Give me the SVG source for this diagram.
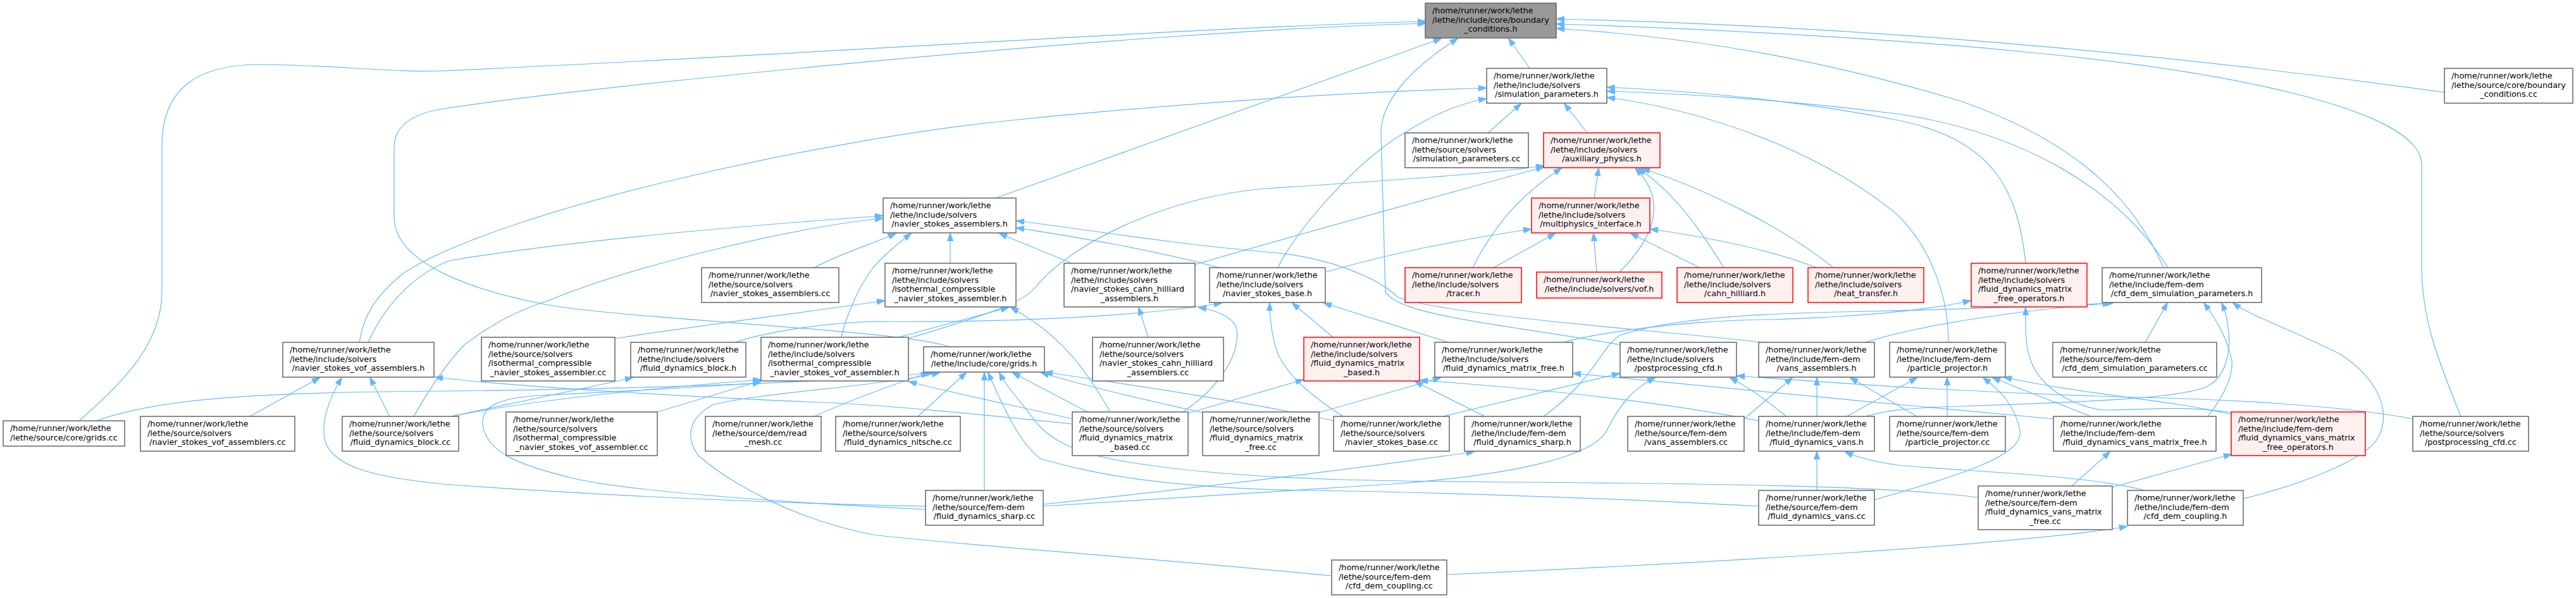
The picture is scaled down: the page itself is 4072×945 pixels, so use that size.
<svg xmlns="http://www.w3.org/2000/svg" width="4072" height="945" viewBox="0 0 4072 945">
<style>
rect{fill:#ffffff;stroke:#666666;stroke-width:1.5}
.r rect{fill:#fff0f0;stroke:#ff0000}
.g rect{fill:#999999;stroke:#666666}
text{font-family:"DejaVu Sans","Liberation Sans",sans-serif;font-size:12.8px;fill:#000000}
.c{text-anchor:middle}
#edges path{fill:none;stroke:#63b8ff;stroke-width:1.2;marker-end:url(#a)}
</style>
<defs>
<marker id="a" viewBox="0 0 14 10" refX="13" refY="5" markerWidth="13" markerHeight="10" markerUnits="userSpaceOnUse" orient="auto">
<path d="M0,0 L14,5 L0,10 z" fill="#63b8ff" stroke="#63b8ff"/>
</marker>
</defs>
<rect x="0" y="0" width="4072" height="945" style="fill:#ffffff;stroke:none"/>
<g id="edges">
<path d="M2418,108 L2385,61"/>
<path d="M1500,548 C1430,522 1000,505 867,482 C760,462 623,420 623,343 L623,233 C623,200 650,180 700,172 C900,140 1800,48 2253,37"/>
<path d="M125,665 C200,600 256,540 256,460 L256,230 C256,150 300,102 410,102 C520,102 620,115 700,112 C1300,85 1900,42 2253,34"/>
<path d="M1574,313 L2278,61"/>
<path d="M2561,545 C2400,515 2205,500 2190,460 L2183,210 C2183,150 2250,95 2304,61"/>
<path d="M3864,146 C3500,95 3000,42 2461,30"/>
<path d="M3890,658 C3850,560 3828,500 3828,420 L3828,260 C3828,170 3500,110 3200,82 C3000,62 2700,45 2461,38"/>
<path d="M3420,423 C3380,330 3300,230 3100,160 C2900,100 2700,60 2461,45"/>
<path d="M2352,210 L2404,164"/>
<path d="M2509,210 L2473,164"/>
<path d="M568,541 C575,500 590,470 640,430 C800,330 1300,220 1600,190 C1900,160 2150,145 2349,139"/>
<path d="M2020,423 C2050,360 2150,250 2220,210 C2260,185 2300,165 2349,156"/>
<path d="M3202,416 C3190,300 3150,220 3000,190 C2850,160 2700,145 2541,138"/>
<path d="M3427,423 C3350,300 3200,210 3000,180 C2800,155 2650,148 2541,144"/>
<path d="M3080,541 C3080,480 3060,400 3000,340 C2880,240 2700,175 2541,154"/>
<path d="M2520,313 L2527,266"/>
<path d="M2328,423 C2360,360 2400,310 2468,266"/>
<path d="M2560,430 C2610,380 2640,320 2585,266"/>
<path d="M2725,423 C2680,350 2640,300 2590,266"/>
<path d="M2898,423 C2820,360 2700,300 2596,266"/>
<path d="M1889,418 C2000,385 2200,330 2440,264"/>
<path d="M1436,535 C1550,500 1620,480 1640,450 C1700,380 1850,310 2000,298 C2200,285 2350,275 2440,262"/>
<path d="M2095,430 C2200,400 2300,380 2420,362"/>
<path d="M2361,423 L2458,369"/>
<path d="M2524,430 L2519,369"/>
<path d="M2687,423 L2578,369"/>
<path d="M2872,423 C2800,395 2700,375 2609,362"/>
<path d="M582,541 C600,500 640,440 710,412 C900,380 1200,355 1395,341"/>
<path d="M654,658 C670,630 700,580 734,545 C780,510 820,490 867,475 C1000,420 1250,360 1395,345"/>
<path d="M1287,423 C1330,400 1380,385 1416,369"/>
<path d="M1330,533 C1340,490 1360,450 1380,423 C1400,400 1420,385 1440,369"/>
<path d="M1502,416 L1502,369"/>
<path d="M1694,416 L1580,369"/>
<path d="M2787,541 C2600,520 2300,500 2210,470 C2180,440 2100,405 2000,398 C1850,385 1700,360 1607,349"/>
<path d="M1928,423 C1800,390 1700,375 1607,360"/>
<path d="M972,535 C1100,515 1300,490 1398,475"/>
<path d="M1420,533 L1594,486"/>
<path d="M1755,651 C1720,590 1680,530 1598,486"/>
<path d="M1815,533 L1800,486"/>
<path d="M1870,651 C1930,610 1960,560 1955,520 C1950,500 1920,490 1895,486"/>
<path d="M1162,541 C1200,528 1280,512 1380,508 C1600,510 1800,500 1931,479"/>
<path d="M2107,533 L2043,479"/>
<path d="M2290,541 L2093,479"/>
<path d="M2123,658 C2080,630 2040,600 2020,560 C2010,530 2007,500 2007,479"/>
<path d="M713,658 L1000,597"/>
<path d="M713,658 C850,630 1050,612 1202,600"/>
<path d="M1039,651 L1202,602"/>
<path d="M1695,662 C1600,640 1500,620 1437,603"/>
<path d="M1463,805 C1350,800 1000,780 903,755 C820,735 770,715 763,672 C760,640 790,630 850,625 C1000,618 1100,612 1202,605"/>
<path d="M395,658 L505,597"/>
<path d="M616,658 L585,597"/>
<path d="M1695,670 C1550,655 1400,640 1300,636 C1100,628 800,610 688,596"/>
<path d="M1463,800 C1200,795 900,780 700,765 C600,755 530,740 515,700 C505,670 520,630 540,597"/>
<path d="M152,665 C250,630 400,620 700,618 C1000,615 1300,605 1475,589"/>
<path d="M1451,658 L1527,589"/>
<path d="M1556,775 L1556,589"/>
<path d="M1719,651 L1601,589"/>
<path d="M1901,652 C1800,630 1700,605 1646,589"/>
<path d="M1287,658 C1350,630 1420,605 1468,589"/>
<path d="M2105,910 C1800,880 1500,860 1380,845 C1250,820 1150,760 1104,720 C1082,690 1090,660 1126,640 C1200,620 1380,612 1485,589"/>
<path d="M2780,800 C2600,790 2300,778 2060,775 C1800,770 1700,740 1645,725 C1610,700 1580,630 1562,589"/>
<path d="M3127,786 C3000,770 2800,765 2400,762 C2200,760 2060,760 1900,745 C1750,730 1680,715 1640,670 C1610,630 1590,610 1580,589"/>
<path d="M2108,665 C2000,640 1800,610 1652,588"/>
<path d="M1878,653 L2060,600"/>
<path d="M2347,658 L2237,603"/>
<path d="M2780,665 C2600,630 2400,612 2245,601"/>
<path d="M2085,652 L2277,597"/>
<path d="M3246,662 C3000,640 2700,610 2487,590"/>
<path d="M2281,658 L2560,590"/>
<path d="M1649,800 C1800,790 2000,778 2200,765 C2400,750 2520,720 2540,680 C2560,640 2580,615 2616,597"/>
<path d="M2823,658 C2790,630 2760,610 2735,597"/>
<path d="M3814,662 C3700,640 3500,630 3380,628 C3100,620 2900,605 2746,594"/>
<path d="M1649,797 C1900,770 2150,740 2330,714"/>
<path d="M2757,662 L2833,597"/>
<path d="M2872,658 L2872,597"/>
<path d="M3030,658 L2925,597"/>
<path d="M2919,658 L3030,597"/>
<path d="M3078,658 L3078,597"/>
<path d="M2963,790 C3100,750 3200,720 3193,680 C3185,640 3160,615 3135,597"/>
<path d="M3305,658 L3150,597"/>
<path d="M3527,655 C3420,630 3300,625 3168,596"/>
<path d="M3527,652 C3450,640 3400,648 3323,648 C3270,640 3225,610 3210,570 C3200,540 3202,510 3202,486"/>
<path d="M2470,541 C2550,520 2700,505 2800,505 C2950,500 3050,490 3115,475"/>
<path d="M2948,541 C3050,510 3200,490 3336,479"/>
<path d="M2440,658 C2520,600 2530,550 2560,530 C2650,500 2800,495 2950,492 C3150,488 3250,483 3340,479"/>
<path d="M3391,541 L3426,479"/>
<path d="M3490,658 C3520,620 3530,590 3528,570 C3520,530 3500,500 3484,479"/>
<path d="M2948,658 C2980,650 3000,645 3100,642 C3300,635 3450,630 3490,610 C3530,590 3530,520 3512,479"/>
<path d="M3546,788 C3620,770 3740,730 3760,690 C3780,650 3760,600 3700,560 C3620,520 3560,500 3530,479"/>
<path d="M2872,775 L2872,714"/>
<path d="M3390,775 C3300,750 3100,745 3000,735 C2950,728 2930,720 2917,714"/>
<path d="M3275,768 L3335,714"/>
<path d="M3339,770 L3527,718"/>
<path d="M2287,908 C2700,890 3200,860 3362,832"/>
</g>
<g id="BC_h" class="g"><rect x="2253" y="5" width="207" height="55"/><text><tspan x="2264" y="20.8">/home/runner/work/lethe</tspan><tspan x="2264" y="35.5">/lethe/include/core/boundary</tspan><tspan class="c" x="2356.5" y="50.2">_conditions.h</tspan></text></g>
<g id="SP_h"><rect x="2350" y="108" width="190" height="55"/><text><tspan x="2361" y="123.8">/home/runner/work/lethe</tspan><tspan x="2361" y="138.5">/lethe/include/solvers</tspan><tspan class="c" x="2445" y="153.2">/simulation_parameters.h</tspan></text></g>
<g id="BC_cc"><rect x="3864" y="108" width="203" height="55"/><text><tspan x="3875" y="123.8">/home/runner/work/lethe</tspan><tspan x="3875" y="138.5">/lethe/source/core/boundary</tspan><tspan class="c" x="3965.5" y="153.2">_conditions.cc</tspan></text></g>
<g id="SP_cc"><rect x="2221" y="210" width="195" height="55"/><text><tspan x="2232" y="225.8">/home/runner/work/lethe</tspan><tspan x="2232" y="240.5">/lethe/source/solvers</tspan><tspan class="c" x="2318.5" y="255.2">/simulation_parameters.cc</tspan></text></g>
<g id="AUX_h" class="r"><rect x="2440" y="210" width="184" height="55"/><text><tspan x="2451" y="225.8">/home/runner/work/lethe</tspan><tspan x="2451" y="240.5">/lethe/include/solvers</tspan><tspan class="c" x="2532" y="255.2">/auxiliary_physics.h</tspan></text></g>
<g id="NSA_h"><rect x="1396" y="313" width="210" height="55"/><text><tspan x="1407" y="328.8">/home/runner/work/lethe</tspan><tspan x="1407" y="343.5">/lethe/include/solvers</tspan><tspan class="c" x="1501" y="358.2">/navier_stokes_assemblers.h</tspan></text></g>
<g id="MPI_h" class="r"><rect x="2421" y="313" width="187" height="55"/><text><tspan x="2432" y="328.8">/home/runner/work/lethe</tspan><tspan x="2432" y="343.5">/lethe/include/solvers</tspan><tspan class="c" x="2514.5" y="358.2">/multiphysics_interface.h</tspan></text></g>
<g id="NSA_cc"><rect x="1109" y="423" width="217" height="55"/><text><tspan x="1120" y="438.8">/home/runner/work/lethe</tspan><tspan x="1120" y="453.5">/lethe/source/solvers</tspan><tspan class="c" x="1217.5" y="468.2">/navier_stokes_assemblers.cc</tspan></text></g>
<g id="ICNSA_h"><rect x="1399" y="416" width="207" height="69"/><text><tspan x="1410" y="431.8">/home/runner/work/lethe</tspan><tspan x="1410" y="446.5">/lethe/include/solvers</tspan><tspan x="1410" y="461.2">/isothermal_compressible</tspan><tspan class="c" x="1502.5" y="475.9">_navier_stokes_assembler.h</tspan></text></g>
<g id="NSCHA_h"><rect x="1682" y="416" width="207" height="69"/><text><tspan x="1693" y="431.8">/home/runner/work/lethe</tspan><tspan x="1693" y="446.5">/lethe/include/solvers</tspan><tspan x="1693" y="461.2">/navier_stokes_cahn_hilliard</tspan><tspan class="c" x="1785.5" y="475.9">_assemblers.h</tspan></text></g>
<g id="NSB_h"><rect x="1912" y="423" width="183" height="55"/><text><tspan x="1923" y="438.8">/home/runner/work/lethe</tspan><tspan x="1923" y="453.5">/lethe/include/solvers</tspan><tspan class="c" x="2003.5" y="468.2">/navier_stokes_base.h</tspan></text></g>
<g id="TRC_h" class="r"><rect x="2221" y="423" width="184" height="55"/><text><tspan x="2232" y="438.8">/home/runner/work/lethe</tspan><tspan x="2232" y="453.5">/lethe/include/solvers</tspan><tspan class="c" x="2313" y="468.2">/tracer.h</tspan></text></g>
<g id="VOF_h" class="r"><rect x="2429" y="430" width="198" height="41"/><text><tspan x="2440" y="445.8">/home/runner/work/lethe</tspan><tspan class="c" x="2528" y="460.5">/lethe/include/solvers/vof.h</tspan></text></g>
<g id="CH_h" class="r"><rect x="2651" y="423" width="183" height="55"/><text><tspan x="2662" y="438.8">/home/runner/work/lethe</tspan><tspan x="2662" y="453.5">/lethe/include/solvers</tspan><tspan class="c" x="2742.5" y="468.2">/cahn_hilliard.h</tspan></text></g>
<g id="HT_h" class="r"><rect x="2858" y="423" width="183" height="55"/><text><tspan x="2869" y="438.8">/home/runner/work/lethe</tspan><tspan x="2869" y="453.5">/lethe/include/solvers</tspan><tspan class="c" x="2949.5" y="468.2">/heat_transfer.h</tspan></text></g>
<g id="FDMFO_h" class="r"><rect x="3116" y="416" width="183" height="69"/><text><tspan x="3127" y="431.8">/home/runner/work/lethe</tspan><tspan x="3127" y="446.5">/lethe/include/solvers</tspan><tspan x="3127" y="461.2">/fluid_dynamics_matrix</tspan><tspan class="c" x="3207.5" y="475.9">_free_operators.h</tspan></text></g>
<g id="CDSP_h"><rect x="3323" y="423" width="252" height="55"/><text><tspan x="3334" y="438.8">/home/runner/work/lethe</tspan><tspan x="3334" y="453.5">/lethe/include/fem-dem</tspan><tspan class="c" x="3449" y="468.2">/cfd_dem_simulation_parameters.h</tspan></text></g>
<g id="NSVOFA_h"><rect x="447" y="541" width="239" height="55"/><text><tspan x="458" y="556.8">/home/runner/work/lethe</tspan><tspan x="458" y="571.5">/lethe/include/solvers</tspan><tspan class="c" x="566.5" y="586.2">/navier_stokes_vof_assemblers.h</tspan></text></g>
<g id="ICNSA_cc"><rect x="761" y="533" width="211" height="69"/><text><tspan x="772" y="548.8">/home/runner/work/lethe</tspan><tspan x="772" y="563.5">/lethe/source/solvers</tspan><tspan x="772" y="578.2">/isothermal_compressible</tspan><tspan class="c" x="866.5" y="592.9">_navier_stokes_assembler.cc</tspan></text></g>
<g id="FDB_h"><rect x="997" y="541" width="182" height="55"/><text><tspan x="1008" y="556.8">/home/runner/work/lethe</tspan><tspan x="1008" y="571.5">/lethe/include/solvers</tspan><tspan class="c" x="1088" y="586.2">/fluid_dynamics_block.h</tspan></text></g>
<g id="ICNSVA_h"><rect x="1203" y="533" width="233" height="69"/><text><tspan x="1214" y="548.8">/home/runner/work/lethe</tspan><tspan x="1214" y="563.5">/lethe/include/solvers</tspan><tspan x="1214" y="578.2">/isothermal_compressible</tspan><tspan class="c" x="1319.5" y="592.9">_navier_stokes_vof_assembler.h</tspan></text></g>
<g id="GRIDS_h"><rect x="1460" y="548" width="191" height="40"/><text><tspan x="1471" y="563.8">/home/runner/work/lethe</tspan><tspan class="c" x="1555.5" y="578.5">/lethe/include/core/grids.h</tspan></text></g>
<g id="NSCHA_cc"><rect x="1727" y="533" width="207" height="69"/><text><tspan x="1738" y="548.8">/home/runner/work/lethe</tspan><tspan x="1738" y="563.5">/lethe/source/solvers</tspan><tspan x="1738" y="578.2">/navier_stokes_cahn_hilliard</tspan><tspan class="c" x="1830.5" y="592.9">_assemblers.cc</tspan></text></g>
<g id="FDMB_h" class="r"><rect x="2061" y="533" width="183" height="69"/><text><tspan x="2072" y="548.8">/home/runner/work/lethe</tspan><tspan x="2072" y="563.5">/lethe/include/solvers</tspan><tspan x="2072" y="578.2">/fluid_dynamics_matrix</tspan><tspan class="c" x="2152.5" y="592.9">_based.h</tspan></text></g>
<g id="FDMF_h"><rect x="2268" y="541" width="218" height="55"/><text><tspan x="2279" y="556.8">/home/runner/work/lethe</tspan><tspan x="2279" y="571.5">/lethe/include/solvers</tspan><tspan class="c" x="2377" y="586.2">/fluid_dynamics_matrix_free.h</tspan></text></g>
<g id="PPCFD_h"><rect x="2561" y="541" width="184" height="55"/><text><tspan x="2572" y="556.8">/home/runner/work/lethe</tspan><tspan x="2572" y="571.5">/lethe/include/solvers</tspan><tspan class="c" x="2653" y="586.2">/postprocessing_cfd.h</tspan></text></g>
<g id="VANSA_h"><rect x="2780" y="541" width="183" height="55"/><text><tspan x="2791" y="556.8">/home/runner/work/lethe</tspan><tspan x="2791" y="571.5">/lethe/include/fem-dem</tspan><tspan class="c" x="2871.5" y="586.2">/vans_assemblers.h</tspan></text></g>
<g id="PP_h"><rect x="2987" y="541" width="183" height="55"/><text><tspan x="2998" y="556.8">/home/runner/work/lethe</tspan><tspan x="2998" y="571.5">/lethe/include/fem-dem</tspan><tspan class="c" x="3078.5" y="586.2">/particle_projector.h</tspan></text></g>
<g id="CDSP_cc"><rect x="3245" y="541" width="259" height="55"/><text><tspan x="3256" y="556.8">/home/runner/work/lethe</tspan><tspan x="3256" y="571.5">/lethe/source/fem-dem</tspan><tspan class="c" x="3374.5" y="586.2">/cfd_dem_simulation_parameters.cc</tspan></text></g>
<g id="GRIDS_cc"><rect x="5" y="665" width="192" height="40"/><text><tspan x="16" y="680.8">/home/runner/work/lethe</tspan><tspan class="c" x="101" y="695.5">/lethe/source/core/grids.cc</tspan></text></g>
<g id="NSVOFA_cc"><rect x="222" y="658" width="244" height="55"/><text><tspan x="233" y="673.8">/home/runner/work/lethe</tspan><tspan x="233" y="688.5">/lethe/source/solvers</tspan><tspan class="c" x="344" y="703.2">/navier_stokes_vof_assemblers.cc</tspan></text></g>
<g id="FDB_cc"><rect x="541" y="658" width="184" height="55"/><text><tspan x="552" y="673.8">/home/runner/work/lethe</tspan><tspan x="552" y="688.5">/lethe/source/solvers</tspan><tspan class="c" x="633" y="703.2">/fluid_dynamics_block.cc</tspan></text></g>
<g id="ICNSVA_cc"><rect x="800" y="651" width="239" height="69"/><text><tspan x="811" y="666.8">/home/runner/work/lethe</tspan><tspan x="811" y="681.5">/lethe/source/solvers</tspan><tspan x="811" y="696.2">/isothermal_compressible</tspan><tspan class="c" x="919.5" y="710.9">_navier_stokes_vof_assembler.cc</tspan></text></g>
<g id="RM_cc"><rect x="1115" y="658" width="183" height="55"/><text><tspan x="1126" y="673.8">/home/runner/work/lethe</tspan><tspan x="1126" y="688.5">/lethe/source/dem/read</tspan><tspan class="c" x="1206.5" y="703.2">_mesh.cc</tspan></text></g>
<g id="FDN_cc"><rect x="1321" y="658" width="197" height="55"/><text><tspan x="1332" y="673.8">/home/runner/work/lethe</tspan><tspan x="1332" y="688.5">/lethe/source/solvers</tspan><tspan class="c" x="1419.5" y="703.2">/fluid_dynamics_nitsche.cc</tspan></text></g>
<g id="FDMB_cc"><rect x="1695" y="651" width="183" height="69"/><text><tspan x="1706" y="666.8">/home/runner/work/lethe</tspan><tspan x="1706" y="681.5">/lethe/source/solvers</tspan><tspan x="1706" y="696.2">/fluid_dynamics_matrix</tspan><tspan class="c" x="1786.5" y="710.9">_based.cc</tspan></text></g>
<g id="FDMF_cc"><rect x="1901" y="651" width="184" height="69"/><text><tspan x="1912" y="666.8">/home/runner/work/lethe</tspan><tspan x="1912" y="681.5">/lethe/source/solvers</tspan><tspan x="1912" y="696.2">/fluid_dynamics_matrix</tspan><tspan class="c" x="1993" y="710.9">_free.cc</tspan></text></g>
<g id="NSB_cc"><rect x="2108" y="658" width="183" height="55"/><text><tspan x="2119" y="673.8">/home/runner/work/lethe</tspan><tspan x="2119" y="688.5">/lethe/source/solvers</tspan><tspan class="c" x="2199.5" y="703.2">/navier_stokes_base.cc</tspan></text></g>
<g id="FDS_h"><rect x="2315" y="658" width="183" height="55"/><text><tspan x="2326" y="673.8">/home/runner/work/lethe</tspan><tspan x="2326" y="688.5">/lethe/include/fem-dem</tspan><tspan class="c" x="2406.5" y="703.2">/fluid_dynamics_sharp.h</tspan></text></g>
<g id="VANSA_cc"><rect x="2573" y="658" width="184" height="55"/><text><tspan x="2584" y="673.8">/home/runner/work/lethe</tspan><tspan x="2584" y="688.5">/lethe/source/fem-dem</tspan><tspan class="c" x="2665" y="703.2">/vans_assemblers.cc</tspan></text></g>
<g id="FDV_h"><rect x="2780" y="658" width="183" height="55"/><text><tspan x="2791" y="673.8">/home/runner/work/lethe</tspan><tspan x="2791" y="688.5">/lethe/include/fem-dem</tspan><tspan class="c" x="2871.5" y="703.2">/fluid_dynamics_vans.h</tspan></text></g>
<g id="PP_cc"><rect x="2987" y="658" width="183" height="55"/><text><tspan x="2998" y="673.8">/home/runner/work/lethe</tspan><tspan x="2998" y="688.5">/lethe/source/fem-dem</tspan><tspan class="c" x="3078.5" y="703.2">/particle_projector.cc</tspan></text></g>
<g id="FDVMF_h"><rect x="3246" y="658" width="257" height="55"/><text><tspan x="3257" y="673.8">/home/runner/work/lethe</tspan><tspan x="3257" y="688.5">/lethe/include/fem-dem</tspan><tspan class="c" x="3374.5" y="703.2">/fluid_dynamics_vans_matrix_free.h</tspan></text></g>
<g id="FDVMFO_h" class="r"><rect x="3527" y="651" width="212" height="69"/><text><tspan x="3538" y="666.8">/home/runner/work/lethe</tspan><tspan x="3538" y="681.5">/lethe/include/fem-dem</tspan><tspan x="3538" y="696.2">/fluid_dynamics_vans_matrix</tspan><tspan class="c" x="3633" y="710.9">_free_operators.h</tspan></text></g>
<g id="PPCFD_cc"><rect x="3814" y="658" width="183" height="55"/><text><tspan x="3825" y="673.8">/home/runner/work/lethe</tspan><tspan x="3825" y="688.5">/lethe/source/solvers</tspan><tspan class="c" x="3905.5" y="703.2">/postprocessing_cfd.cc</tspan></text></g>
<g id="FDS_cc"><rect x="1463" y="775" width="186" height="55"/><text><tspan x="1474" y="790.8">/home/runner/work/lethe</tspan><tspan x="1474" y="805.5">/lethe/source/fem-dem</tspan><tspan class="c" x="1556" y="820.2">/fluid_dynamics_sharp.cc</tspan></text></g>
<g id="FDV_cc"><rect x="2780" y="775" width="183" height="55"/><text><tspan x="2791" y="790.8">/home/runner/work/lethe</tspan><tspan x="2791" y="805.5">/lethe/source/fem-dem</tspan><tspan class="c" x="2871.5" y="820.2">/fluid_dynamics_vans.cc</tspan></text></g>
<g id="FDVMF_cc"><rect x="3127" y="768" width="212" height="69"/><text><tspan x="3138" y="783.8">/home/runner/work/lethe</tspan><tspan x="3138" y="798.5">/lethe/source/fem-dem</tspan><tspan x="3138" y="813.2">/fluid_dynamics_vans_matrix</tspan><tspan class="c" x="3233" y="827.9">_free.cc</tspan></text></g>
<g id="CDC_h"><rect x="3363" y="775" width="183" height="55"/><text><tspan x="3374" y="790.8">/home/runner/work/lethe</tspan><tspan x="3374" y="805.5">/lethe/include/fem-dem</tspan><tspan class="c" x="3454.5" y="820.2">/cfd_dem_coupling.h</tspan></text></g>
<g id="CDC_cc"><rect x="2105" y="885" width="182" height="55"/><text><tspan x="2116" y="900.8">/home/runner/work/lethe</tspan><tspan x="2116" y="915.5">/lethe/source/fem-dem</tspan><tspan class="c" x="2196" y="930.2">/cfd_dem_coupling.cc</tspan></text></g>
</svg>
